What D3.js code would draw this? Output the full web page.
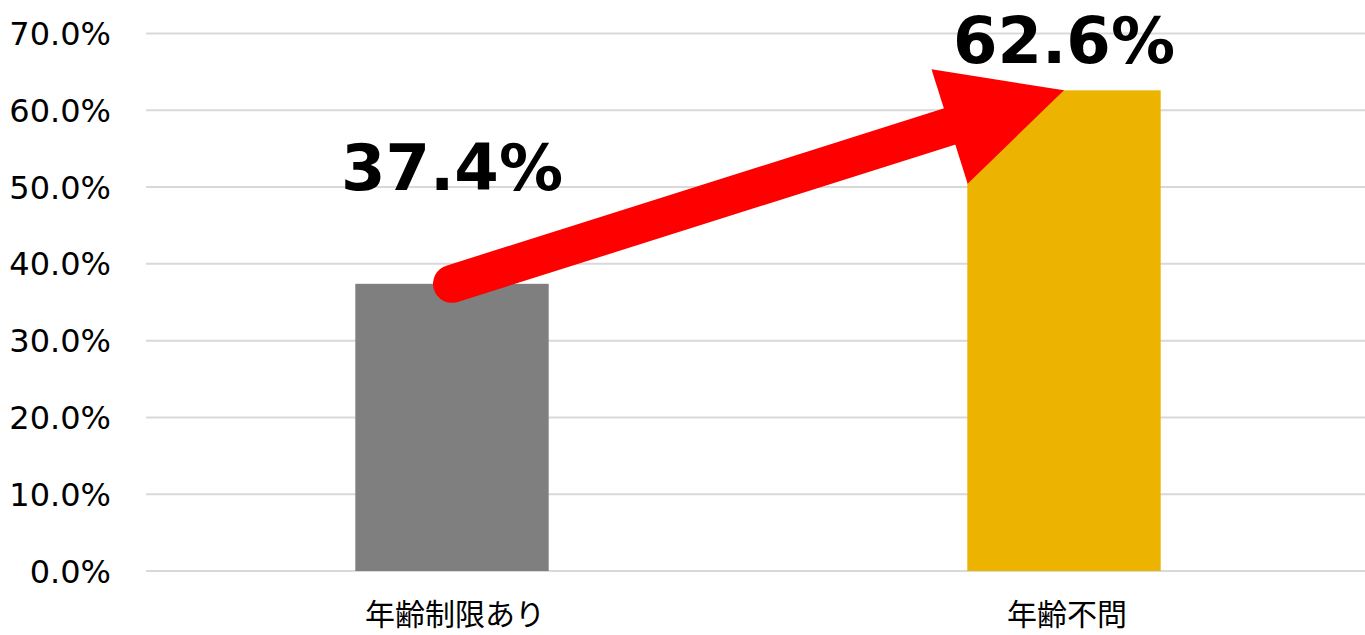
<!DOCTYPE html>
<html><head><meta charset="utf-8">
<script src="https://cdn.jsdelivr.net/npm/d3@7"></script>
<style>
html,body{margin:0;padding:0;background:#fff;overflow:hidden;}
svg{display:block;}
</style></head>
<body>
<svg id="chart" width="1365" height="635"></svg>
<script>
const categories = ["年齢制限あり", "年齢不問"];
const values = [37.4, 62.6];
const barColors = ["#7f7f7f", "#ecb400"];
const tickValues = [0, 10, 20, 30, 40, 50, 60, 70];
const valueLabels = ["37.4%", "62.6%"];

const svg = d3.select("#chart");
const W = 1365, H = 635;
const x = d3.scaleBand().domain(categories).range([146, 1370]).padding(0);
const y = d3.scaleLinear().domain([0, 70]).range([571, 33.5]);
const barW = x.bandwidth() * 0.316;
const cx = d => x(d) + x.bandwidth() / 2;

// gridlines
svg.append("g").selectAll("line").data(tickValues).join("line")
  .attr("x1", 146).attr("x2", W)
  .attr("y1", d => y(d)).attr("y2", d => y(d))
  .attr("stroke", "#d9d9d9").attr("stroke-width", 2);

// y tick labels
svg.append("g").selectAll("text").data(tickValues).join("text")
  .attr("x", 111).attr("y", d => y(d))
  .attr("dy", "0.36em")
  .attr("text-anchor", "end")
  .attr("font-family", "'DejaVu Sans', Verdana, sans-serif")
  .attr("font-size", 32)
  .attr("fill", "#000")
  .text(d => d.toFixed(1) + "%");

// bars
svg.append("g").selectAll("rect").data(categories).join("rect")
  .attr("x", d => cx(d) - barW / 2)
  .attr("width", barW)
  .attr("y", (d, i) => y(values[i]))
  .attr("height", (d, i) => y(0) - y(values[i]))
  .attr("fill", (d, i) => barColors[i]);

// category labels
svg.append("g").selectAll("text").data(categories).join("text")
  .attr("x", d => cx(d) + 3)
  .attr("y", 625)
  .attr("text-anchor", "middle")
  .attr("font-family", "'Noto Sans CJK JP', sans-serif")
  .attr("font-size", 30)
  .attr("fill", "#000")
  .text(d => d);

// arrow
const x0 = cx(categories[0]), y0 = y(values[0]);
const x1 = cx(categories[1]), y1 = y(values[1]);
const dx = x1 - x0, dy = y1 - y0, len = Math.hypot(dx, dy);
const ux = dx / len, uy = dy / len, px = -uy, py = ux;
const headLen = 120, headHalf = 60, shaftW = 38;
const bx = x1 - ux * headLen, by = y1 - uy * headLen;
svg.append("line")
  .attr("x1", x0).attr("y1", y0)
  .attr("x2", bx + ux * 2).attr("y2", by + uy * 2)
  .attr("stroke", "#ff0000").attr("stroke-width", shaftW)
  .attr("stroke-linecap", "round");
svg.append("path")
  .attr("d", `M${x1},${y1}L${bx + px * headHalf},${by + py * headHalf}L${bx - px * headHalf},${by - py * headHalf}Z`)
  .attr("fill", "#ff0000");

// value labels
const labelY = [190, 63];
svg.append("g").selectAll("text").data(categories).join("text")
  .attr("x", d => cx(d))
  .attr("y", (d, i) => labelY[i])
  .attr("text-anchor", "middle")
  .attr("font-family", "'DejaVu Sans', Verdana, sans-serif")
  .attr("font-weight", "bold")
  .attr("font-size", 64)
  .attr("fill", "#000")
  .text((d, i) => valueLabels[i]);
</script>
</body></html>
